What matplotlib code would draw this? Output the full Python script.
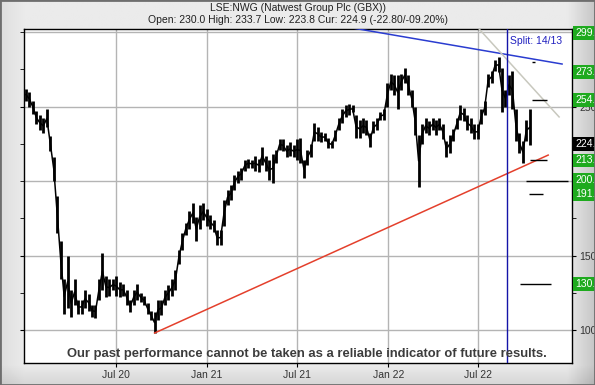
import numpy as np
import pandas as pd
import matplotlib
matplotlib.use('Agg')
import matplotlib.pyplot as plt
import matplotlib.dates as mdates
import matplotlib.transforms as mtransforms
from matplotlib.patches import Rectangle
from matplotlib.ticker import MultipleLocator

plt.rcParams['font.family'] = ['Liberation Sans', 'DejaVu Sans']

# weekly low / high (GBX), weeks starting 2019-12-30
week_start = '2019-12-30'
week_low = [254, 250, 245, 238, 234, 232, 236, 220, 200, 165,
            134, 111, 115, 109, 117, 111, 111, 115, 113, 109,
            108, 120, 127, 122, 123, 127, 123, 122, 123, 117,
            112, 117, 120, 119, 117, 111, 107, 98, 107, 110,
            117, 120, 123, 127, 144, 154, 164, 168, 172, 160,
            168, 174, 170, 168, 166, 157, 157, 170, 184, 187,
            194, 199, 201, 207, 209, 209, 207, 206, 211, 207,
            201, 199, 212, 221, 220, 216, 217, 216, 214, 212,
            202, 211, 216, 227, 227, 226, 227, 222, 222, 227,
            234, 239, 243, 244, 246, 229, 229, 232, 231, 223,
            232, 234, 241, 241, 250, 261, 258, 248, 261, 266,
            258, 250, 231, 196, 225, 232, 231, 234, 231, 234,
            228, 216, 219, 227, 235, 241, 240, 234, 232, 228,
            228, 238, 244, 263, 266, 274, 273, 246, 250, 258,
            248, 227, 219, 212, 227, 224]
week_high = [262, 260, 254, 247, 244, 242, 248, 230, 216, 190,
             160, 134, 150, 127, 134, 120, 120, 127, 124, 117,
             117, 134, 152, 136, 134, 134, 136, 132, 131, 127,
             120, 127, 131, 125, 123, 118, 113, 112, 120, 120,
             127, 130, 134, 140, 154, 165, 172, 180, 185, 176,
             184, 185, 181, 177, 174, 167, 167, 187, 194, 197,
             204, 207, 209, 214, 215, 214, 217, 215, 223, 217,
             214, 218, 221, 228, 228, 224, 226, 224, 228, 229,
             214, 221, 225, 239, 236, 233, 232, 229, 227, 234,
             242, 248, 251, 252, 251, 244, 241, 242, 241, 232,
             240, 242, 246, 248, 266, 272, 271, 271, 272, 276,
             271, 261, 250, 231, 238, 242, 240, 242, 241, 242,
             238, 227, 231, 235, 242, 251, 249, 244, 242, 238,
             238, 248, 254, 272, 274, 281, 283, 276, 261, 271,
             274, 248, 232, 227, 241, 248]

title = 'LSE:NWG (Natwest Group Plc (GBX))'
subtitle = 'Open: 230.0 High: 233.7 Low: 223.8 Cur: 224.9 (-22.80/-09.20%)'
disclaimer = 'Our past performance cannot be taken as a reliable indicator of future results.'

x_ticks = ['2020-07-01', '2021-01-01', '2021-07-01', '2022-01-01', '2022-07-01']
y_ticks = [100, 150, 250]
y_grid = [100, 150, 200, 250, 300]

# right-hand price boxes
level_values = [299.3, 273.2, 254.4, 224.9, 213.8, 200.7, 191.3, 130.9]
level_labels = ['299.', '273.', '254.', '224.', '213.', '200.', '191.', '130.']
level_colors = ['#1EAA1E', '#1EAA1E', '#1EAA1E', 'black', '#1EAA1E', '#1EAA1E', '#1EAA1E', '#1EAA1E']

# short target dashes
target_levels = [280, 254.4, 214, 200, 191.3, 130.9]
target_start = ['2022-10-17', '2022-10-17', '2022-10-13', '2022-10-05', '2022-10-11', '2022-09-23']
target_end = ['2022-10-23', '2022-11-16', '2022-11-16', '2022-12-28', '2022-11-08', '2022-11-24']

# trend lines
support_dates = ['2020-09-17', '2022-11-19']
support_values = [98, 217.4]
resist_dates = ['2021-09-26', '2022-12-17']
resist_values = [304.1, 278.5]
fan_dates = ['2022-07-01', '2022-12-11']
fan_values = [302.7, 243]
split_date = '2022-08-28'

fig = plt.figure(figsize=(5.95, 3.85), dpi=100)

# bevelled grey frame
bg = fig.add_axes([0, 0, 1, 1], zorder=-10)
bg.axis('off')
gx = np.linspace(0, 1, 300)
gy = np.linspace(0, 1, 200)
GX, GY = np.meshgrid(gx, gy)
shade = 0.92 - 0.14 * np.clip((GX - 0.955) / 0.045, 0, 1) - 0.08 * np.clip((0.05 - GY) / 0.05, 0, 1)
shade = shade - 0.05 * np.clip((0.04 - GX) / 0.04, 0, 1)
bg.imshow(shade, cmap='gray', vmin=0, vmax=1, extent=[0, 1, 0, 1], aspect='auto', origin='lower')
bg.set_xlim(0, 1)
bg.set_ylim(0, 1)
fig.patches.append(Rectangle((0, 0), 1, 1, transform=fig.transFigure, fill=False,
                             edgecolor='#6E6E6E', lw=2))

ax = fig.add_axes([24 / 595, 1 - 363 / 385, 548 / 595, 334 / 385])
ax.set_facecolor('white')
ax.set_xlim(pd.Timestamp('2019-12-29'), pd.Timestamp('2023-01-06'))
ax.set_ylim(77.9, 302)

weeks = pd.date_range(week_start, periods=len(week_low), freq='7D') + pd.Timedelta(days=3)
ax.vlines(weeks, week_low, week_high, color='black', lw=2.0, zorder=3)
mid = (np.array(week_low) + np.array(week_high)) / 2
ax.plot(weeks, mid, color='black', lw=1.1, zorder=3)

ax.plot(pd.to_datetime(support_dates), support_values, color='#E4402C', lw=1.1, zorder=4)
ax.plot(pd.to_datetime(resist_dates), resist_values, color='#2A3CD0', lw=1.1, zorder=4)
ax.plot(pd.to_datetime(fan_dates), fan_values, color='#C8C8BE', lw=1.1, zorder=4)
ax.axvline(pd.Timestamp(split_date), color='#1414A8', lw=1, zorder=4)
ax.hlines(target_levels, pd.to_datetime(target_start), pd.to_datetime(target_end),
          color='black', lw=1, zorder=4)

ax.text(pd.Timestamp(split_date) + pd.Timedelta(days=7), 294, 'Split: 14/13',
        color='#2020C0', fontsize=7.5, va='center', ha='left', zorder=5)

# grid drawn by hand so that tick labels can stay sparse
for g in y_grid:
    ax.axhline(g, color='#B4B4B4', lw=1, zorder=1)
for d in x_ticks:
    ax.axvline(pd.Timestamp(d), color='#B4B4B4', lw=1, zorder=1)

ax.set_yticks(y_ticks)
ax.yaxis.set_minor_locator(MultipleLocator(25))
ax.set_xticks(pd.to_datetime(x_ticks))
ax.xaxis.set_major_formatter(mdates.DateFormatter('%b %y'))
ax.tick_params(axis='y', which='both', left=True, right=True, labelleft=False,
               labelright=True, direction='out', length=3, pad=2,
               labelsize=7.5, labelcolor='#333333')
ax.tick_params(axis='x', direction='out', length=3, pad=2, labelsize=7.5,
               labelcolor='#333333')
for s in ax.spines.values():
    s.set_color('black')
    s.set_linewidth(1)

trans = mtransforms.blended_transform_factory(ax.transAxes, ax.transData)
for v, lab, c in zip(level_values, level_labels, level_colors):
    ax.text(1.0055, v, lab, transform=trans, va='center', ha='left', color='white',
            fontsize=7.5, clip_on=False, zorder=6,
            bbox=dict(boxstyle='square,pad=0.18', fc=c, ec='none'))

fig.text(0.5, 1 - 8 / 385, title, ha='center', va='center', fontsize=7.5, color='#202020')
fig.text(0.5, 1 - 20 / 385, subtitle, ha='center', va='center', fontsize=7.5, color='#202020')
fig.text(307 / 595, 1 - 354 / 385, disclaimer, ha='center', va='center', fontsize=9.4,
         fontweight='bold', color='#3C3C3C')

fig.savefig('out.png', dpi=100)
